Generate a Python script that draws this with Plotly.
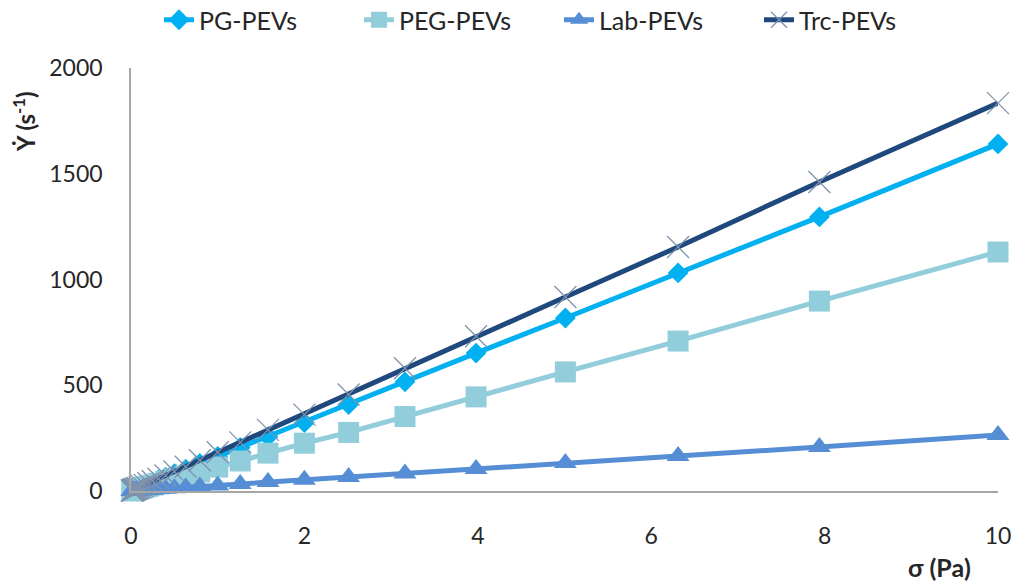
import plotly.graph_objects as go

sigma = [0.01, 0.0126, 0.0158, 0.02, 0.0251, 0.0316, 0.0398, 0.0501, 0.0631, 0.0794,
         0.1, 0.126, 0.158, 0.2, 0.251, 0.316, 0.398, 0.501, 0.631, 0.794,
         1.0, 1.26, 1.58, 2.0, 2.51, 3.16, 3.98, 5.01, 6.31, 7.94, 10.0]

pg = [1.6, 2.1, 2.6, 3.3, 4.1, 5.2, 6.5, 8.2, 10.3, 13, 16.4, 20.6, 25.9, 32.7, 41, 52, 65, 82,
      103, 130, 164, 206, 257, 323, 409, 516, 652, 818, 1031, 1296, 1641]
peg = [1.1, 1.4, 1.8, 2.3, 2.8, 3.6, 4.5, 5.7, 7.1, 9.0, 11.3, 14.2, 17.9, 22.6, 28, 36, 45, 57,
       71, 90, 113, 142, 179, 226, 277, 352, 445, 563, 709, 898, 1130]
lab = [0.26, 0.33, 0.42, 0.53, 0.66, 0.84, 1.05, 1.3, 1.7, 2.1, 2.6, 3.3, 4.2, 5.3, 6.6, 8.4,
       10.5, 13.3, 16.7, 21, 26.5, 33, 42, 53, 66, 83, 104, 132, 165, 208, 265]
trc = [1.8, 2.3, 2.9, 3.7, 4.6, 5.8, 7.3, 9.2, 11.5, 14.5, 18.3, 23, 29, 36.6, 46, 58, 73, 92,
       115, 145, 183, 230, 289, 361, 456, 580, 732, 917, 1154, 1461, 1834]

names = ["PG-PEVs", "PEG-PEVs", "Lab-PEVs", "Trc-PEVs"]
x_ticks = [0, 2, 4, 6, 8, 10]
y_ticks = [0, 500, 1000, 1500, 2000]

FONT = "Lato"
TXT = "#262626"

fig = go.Figure()
fig.add_trace(go.Scatter(x=sigma, y=pg, name=names[0], mode="lines+markers",
                         line=dict(color="#00B0F0", width=5),
                         marker=dict(symbol="diamond", size=16, color="#00B0F0"),
                         cliponaxis=False))
fig.add_trace(go.Scatter(x=sigma, y=peg, name=names[1], mode="lines+markers",
                         line=dict(color="#92CDDC", width=5),
                         marker=dict(symbol="square", size=21, color="#92CDDC"),
                         cliponaxis=False))
fig.add_trace(go.Scatter(x=sigma, y=lab, name=names[2], mode="lines+markers",
                         line=dict(color="#558ED5", width=5),
                         marker=dict(symbol="triangle-up", size=20, color="#558ED5"),
                         cliponaxis=False))
fig.add_trace(go.Scatter(x=sigma, y=trc, name=names[3], mode="lines+markers",
                         line=dict(color="#1F497D", width=5),
                         marker=dict(symbol="x-thin", size=22, color="#1F497D",
                                     line=dict(color="#7F93AD", width=1.3)),
                         cliponaxis=False))

L, R = 131, 20
PW = 1018 - L - R
T, B = 68, 94
PH = 585 - T - B

fig.update_layout(
    width=1018, height=585,
    margin=dict(l=L, r=R, t=T, b=B, autoexpand=False),
    paper_bgcolor="white", plot_bgcolor="white",
    font=dict(family=FONT, size=22, color=TXT),
    showlegend=True,
    legend=dict(orientation="h", x=(159 - L) / PW, xref="paper", xanchor="left",
                y=1 + (T - 20) / PH, yref="paper", yanchor="middle",
                font=dict(family=FONT, size=25, color=TXT),
                traceorder="normal", entrywidth=155, entrywidthmode="pixels"),
    xaxis=dict(range=[0, 10], tickvals=x_ticks, ticktext=[str(v) for v in x_ticks],
               showgrid=False, zeroline=False, showline=True, linecolor="#A6A6A6",
               linewidth=1.5, ticks="", ticklabelstandoff=24, automargin=False,
               tickfont=dict(family=FONT, size=23, color=TXT)),
    yaxis=dict(range=[0, 2000], tickvals=y_ticks, ticktext=[str(v) for v in y_ticks],
               showgrid=False, zeroline=False, showline=True, linecolor="#A6A6A6",
               linewidth=1.5, ticks="", ticklabelstandoff=22, automargin=False,
               tickfont=dict(family=FONT, size=23, color=TXT)),
    annotations=[
        dict(text="<b>Ẏ (s<sup>-1</sup>)</b>", xref="paper", yref="paper",
             x=(24 - L) / PW, y=(491 - 122) / PH, xanchor="center", yanchor="middle",
             textangle=-90, showarrow=False, font=dict(family=FONT, size=24, color=TXT)),
        dict(text="<b>σ (Pa)</b>", xref="paper", yref="paper",
             x=(939 - L) / PW, y=(491 - 567) / PH, xanchor="center", yanchor="middle",
             showarrow=False, font=dict(family=FONT, size=25, color=TXT)),
    ],
)

fig.write_html("out.html")
